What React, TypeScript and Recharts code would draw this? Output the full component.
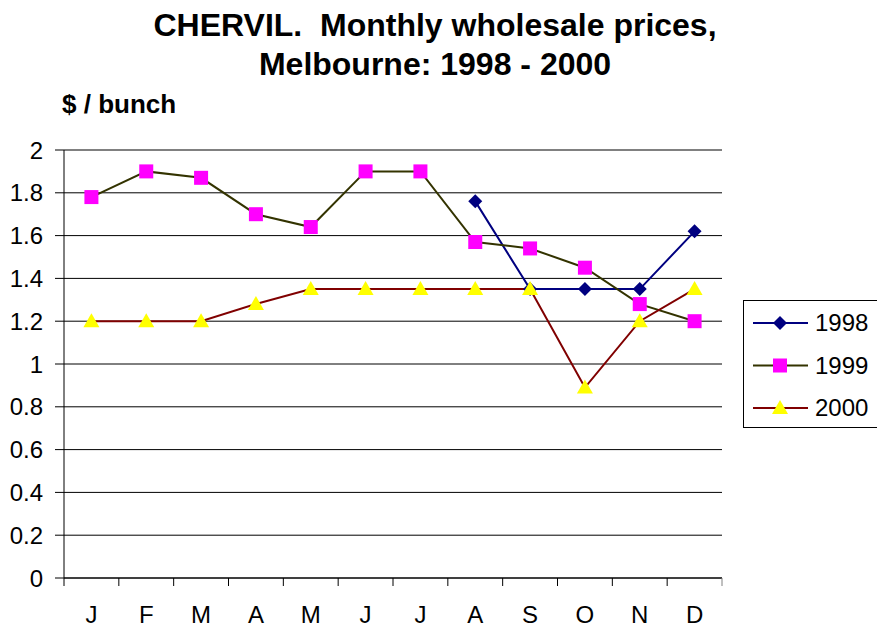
import React from 'react';
import { LineChart, Line, XAxis, YAxis, CartesianGrid, ReferenceLine, Legend } from 'recharts';

const months = ['J', 'F', 'M', 'A', 'M', 'J', 'J', 'A', 'S', 'O', 'N', 'D'];
const prices1998 = [null, null, null, null, null, null, null, 1.76, 1.35, 1.35, 1.35, 1.62];
const prices1999 = [1.78, 1.9, 1.87, 1.7, 1.64, 1.9, 1.9, 1.57, 1.54, 1.45, 1.28, 1.2];
const prices2000 = [1.2, 1.2, 1.2, 1.28, 1.35, 1.35, 1.35, 1.35, 1.35, 0.89, 1.2, 1.35];
const yTicks = [0, 0.2, 0.4, 0.6, 0.8, 1, 1.2, 1.4, 1.6, 1.8, 2];

const data = months.map((m, i) => ({
  month: m,
  y1998: prices1998[i],
  y1999: prices1999[i],
  y2000: prices2000[i],
}));

const FONT = 'Liberation Sans, Arial, sans-serif';
const W = 877;
const H = 627;
const MARGIN = { top: 150, right: 155, bottom: 0, left: 0 };
const Y_WIDTH = 64;
const BAND = (W - MARGIN.right - MARGIN.left - Y_WIDTH) / months.length;

function Diamond({ cx, cy, r = 7 }: any) {
  return <polygon points={`${cx},${cy - r} ${cx + r},${cy} ${cx},${cy + r} ${cx - r},${cy}`} fill="#000080" />;
}

function Square({ cx, cy, r = 7 }: any) {
  return <rect x={cx - r} y={cy - r} width={r * 2} height={r * 2} fill="#ff00ff" />;
}

function Triangle({ cx, cy, r = 8 }: any) {
  return <polygon points={`${cx},${cy - r} ${cx + r},${cy + 6} ${cx - r},${cy + 6}`} fill="#ffff00" />;
}

const series = [
  { key: 'y1998', name: '1998', stroke: '#000080', Marker: Diamond },
  { key: 'y1999', name: '1999', stroke: '#333300', Marker: Square },
  { key: 'y2000', name: '2000', stroke: '#800000', Marker: Triangle },
];

function makeDot(Marker: any) {
  return (props: any) => {
    const { cx, cy, index, value } = props;
    if (cx == null || cy == null || value == null) return <g key={`e-${index}`} />;
    return <Marker key={`d-${index}`} cx={cx} cy={cy} />;
  };
}

function renderMonthTick(props: any) {
  const { x, y, payload, index } = props;
  const half = BAND / 2;
  return (
    <g key={`t-${index}`}>
      <line x1={x - half} x2={x - half} y1={y} y2={y + 8} stroke="#000" />
      {index === months.length - 1 && (
        <line x1={x + half} x2={x + half} y1={y} y2={y + 8} stroke="#808080" />
      )}
      <text x={x} y={y + 45} textAnchor="middle" fontSize={24} fontFamily={FONT} fill="#000">
        {payload.value}
      </text>
    </g>
  );
}

function LegendBox() {
  return (
    <svg width={150} height={128}>
      <rect x={0.5} y={0.5} width={149} height={127} fill="#fff" stroke="#000" />
      {series.map((s, i) => {
        const cy = 23 + i * 42.5;
        const M = s.Marker;
        return (
          <g key={s.key}>
            <line x1={10} x2={65} y1={cy} y2={cy} stroke={s.stroke} strokeWidth={2} />
            <M cx={37} cy={cy} />
            <text x={72} y={cy + 8} fontSize={24} fontFamily={FONT} fill="#000">
              {s.name}
            </text>
          </g>
        );
      })}
    </svg>
  );
}

export default function App() {
  return (
    <div style={{ position: 'absolute', left: 0, top: 0, width: W, height: H, overflow: 'hidden', background: '#fff', fontFamily: FONT }}>
      <div style={{ position: 'absolute', left: 0, top: 6, width: 870, textAlign: 'center', fontSize: 32, fontWeight: 'bold', lineHeight: '39px', whiteSpace: 'pre' }}>
        {'CHERVIL.  Monthly wholesale prices,\nMelbourne: 1998 - 2000'}
      </div>
      <div style={{ position: 'absolute', left: 62, top: 91, fontSize: 26, fontWeight: 'bold', lineHeight: '26px' }}>
        $ / bunch
      </div>
      <LineChart width={W} height={H} data={data} margin={MARGIN}>
        <CartesianGrid vertical={false} stroke="#000" strokeWidth={1} />
        <ReferenceLine y={2} stroke="#808080" strokeWidth={2} />
        <XAxis
          dataKey="month"
          padding={{ left: BAND / 2, right: BAND / 2 }}
          height={49}
          tickLine={false}
          tickSize={0}
          tickMargin={0}
          axisLine={{ stroke: '#000' }}
          interval={0}
          tick={renderMonthTick}
        />
        <YAxis
          domain={[0, 2]}
          ticks={yTicks}
          width={Y_WIDTH}
          tickSize={9}
          tickMargin={12}
          interval={0}
          axisLine={{ stroke: '#000' }}
          tickLine={{ stroke: '#000' }}
          tick={{ fill: '#000', fontSize: 24, fontFamily: FONT }}
        />
        <YAxis
          yAxisId="right"
          orientation="right"
          domain={[0, 2]}
          width={0}
          tick={false}
          tickLine={false}
          axisLine={{ stroke: '#808080', strokeWidth: 2 }}
        />
        {series.map((s) => (
          <Line
            key={s.key}
            dataKey={s.key}
            name={s.name}
            type="linear"
            stroke={s.stroke}
            strokeWidth={2}
            dot={makeDot(s.Marker)}
            activeDot={false}
            isAnimationActive={false}
          />
        ))}
        <Legend
          layout="horizontal"
          verticalAlign="middle"
          align="center"
          wrapperStyle={{ left: 743, top: 300, width: 150, height: 128 }}
          content={() => <LegendBox />}
        />
      </LineChart>
    </div>
  );
}
